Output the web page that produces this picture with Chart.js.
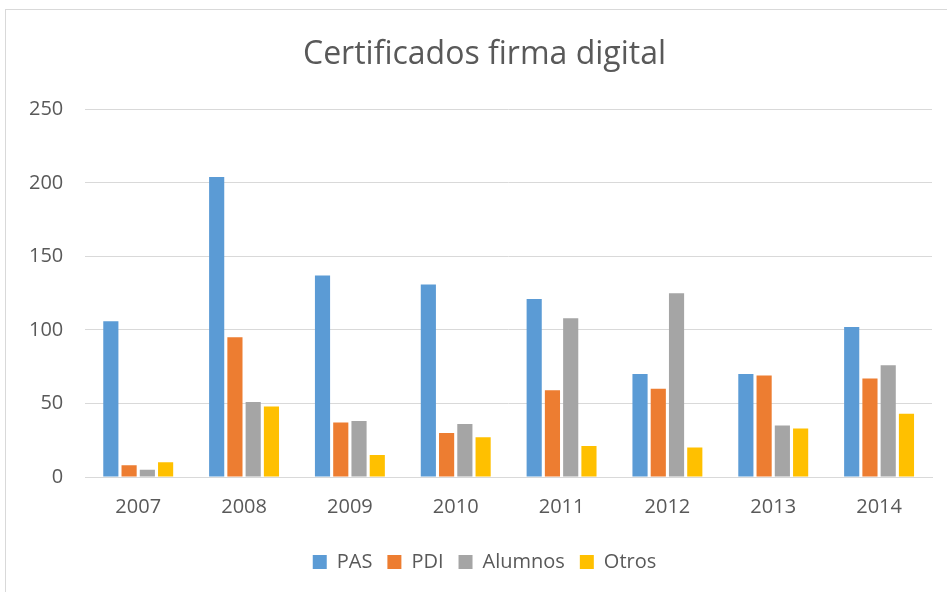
<!DOCTYPE html>
<html>
<head>
<meta charset="utf-8">
<script src="https://cdn.jsdelivr.net/npm/chart.js@4"></script>
<style>
  body { margin: 0; background: #ffffff; overflow: hidden; }
  #marco {
    position: absolute; left: 5px; top: 9px;
    width: 960px; height: 600px;
    border: 1px solid #d9d9d9;
  }
  #grafico { position: absolute; left: 0; top: 0; }
</style>
</head>
<body>
<div id="marco"></div>
<canvas id="grafico" width="947" height="592"></canvas>
<script>
// Datos del gráfico
const anios = ['2007', '2008', '2009', '2010', '2011', '2012', '2013', '2014'];
const pas = [106, 204, 137, 131, 121, 70, 70, 102];
const pdi = [8, 95, 37, 30, 59, 60, 69, 67];
const alumnos = [5, 51, 38, 36, 108, 125, 35, 76];
const otros = [10, 48, 15, 27, 21, 20, 33, 43];
const ticksY = [0, 50, 100, 150, 200, 250];

const fuente = "'Open Sans', 'Noto Sans', sans-serif";
const gris = '#595959';

// Función para crear una serie de barras
function crearSerie(label, data, color) {
    return {
        label: label,
        data: data,
        backgroundColor: color,
        borderWidth: 0,
        barPercentage: 0.83,
        categoryPercentage: 0.69
    };
}

const ctx = document.getElementById('grafico').getContext('2d');
new Chart(ctx, {
    type: 'bar',
    data: {
        labels: anios,
        datasets: [
            crearSerie('PAS', pas, '#5b9bd5'),
            crearSerie('PDI', pdi, '#ed7d31'),
            crearSerie('Alumnos', alumnos, '#a5a5a5'),
            crearSerie('Otros', otros, '#ffc000')
        ]
    },
    options: {
        responsive: false,
        animation: false,
        layout: { padding: { left: 37, right: 15, top: 10, bottom: 10 } },
        plugins: {
            title: {
                display: true,
                text: 'Certificados firma digital',
                color: gris,
                font: { family: fuente, size: 32, weight: 'normal' },
                padding: { top: 26, bottom: 35 }
            },
            legend: {
                position: 'bottom',
                labels: {
                    color: gris,
                    font: { family: fuente, size: 20 },
                    boxWidth: 14,
                    boxHeight: 14,
                    padding: 15
                }
            },
            tooltip: { enabled: false }
        },
        scales: {
            x: {
                grid: { display: false, drawTicks: false },
                border: { display: true, color: '#d9d9d9' },
                ticks: { color: gris, font: { family: fuente, size: 20 }, padding: 18 }
            },
            y: {
                min: 0,
                max: 250,
                afterBuildTicks: (axis) => { axis.ticks = ticksY.map(v => ({ value: v })); },
                afterFit: (axis) => {
                    // eje más estrecho, sin recortar las etiquetas
                    axis.width -= 30;
                    axis._computeLabelArea = () => undefined;
                },
                grid: { color: '#d9d9d9', drawTicks: false },
                border: { display: false },
                ticks: { color: gris, font: { family: fuente, size: 20 }, padding: 22 }
            }
        }
    }
});
</script>
</body>
</html>
